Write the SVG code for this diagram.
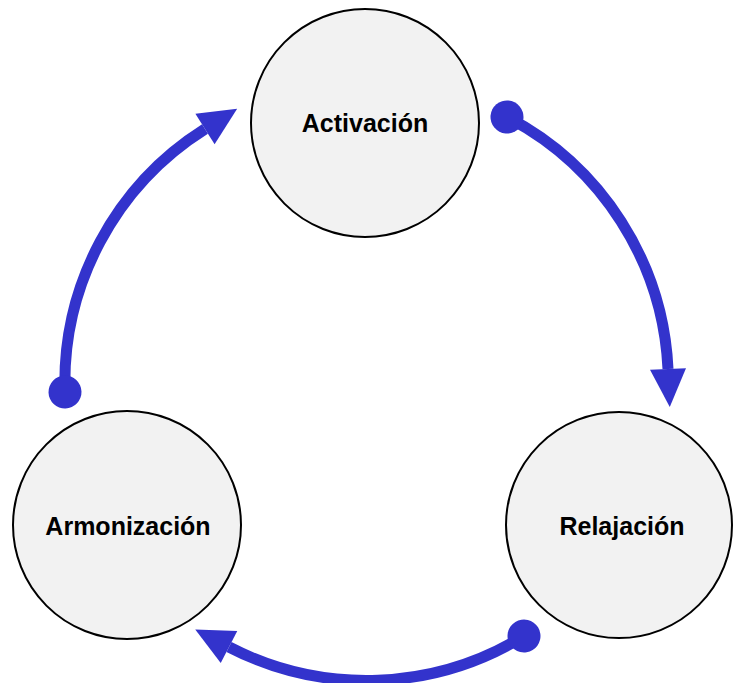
<svg xmlns="http://www.w3.org/2000/svg" width="733" height="683" viewBox="0 0 733 683">
  <style>
    .node { fill: #f2f2f2; stroke: #000000; stroke-width: 2; }
    .label { font-family: "Liberation Sans", Arial, sans-serif; font-weight: bold; font-size: 25px; fill: #000000; text-anchor: middle; }
    .conn { fill: none; stroke: #3333cc; stroke-width: 11; marker-start: url(#dot); marker-end: url(#head); }
  </style>
  <defs>
    <marker id="head" markerUnits="userSpaceOnUse" markerWidth="40" markerHeight="40" viewBox="0 -20 40 40" refX="0" refY="0" orient="auto" overflow="visible">
      <path d="M0,-18 L38,0 L0,18 Z" fill="#3333cc"/>
    </marker>
    <marker id="dot" markerUnits="userSpaceOnUse" markerWidth="36" markerHeight="36" viewBox="-18 -18 36 36" refX="0" refY="0" orient="auto" overflow="visible">
      <circle cx="0" cy="0" r="16.5" fill="#3333cc"/>
    </marker>
  </defs>
  <rect width="733" height="683" fill="#ffffff"/>
  <g id="connectors">
    <path class="conn" d="M507,117 A300,300 0 0,1 668,369"/>
    <path class="conn" d="M524,636 A300,300 0 0,1 229,647"/>
    <path class="conn" d="M65,392 A300,300 0 0,1 205,129"/>
  </g>
  <g id="activacion">
    <circle class="node" cx="365" cy="123" r="114"/>
    <text class="label" x="365" y="132">Activación</text>
  </g>
  <g id="relajacion">
    <circle class="node" cx="619" cy="525" r="113"/>
    <text class="label" x="622" y="535">Relajación</text>
  </g>
  <g id="armonizacion">
    <circle class="node" cx="127" cy="525" r="114"/>
    <text class="label" x="128" y="535">Armonización</text>
  </g>
</svg>
